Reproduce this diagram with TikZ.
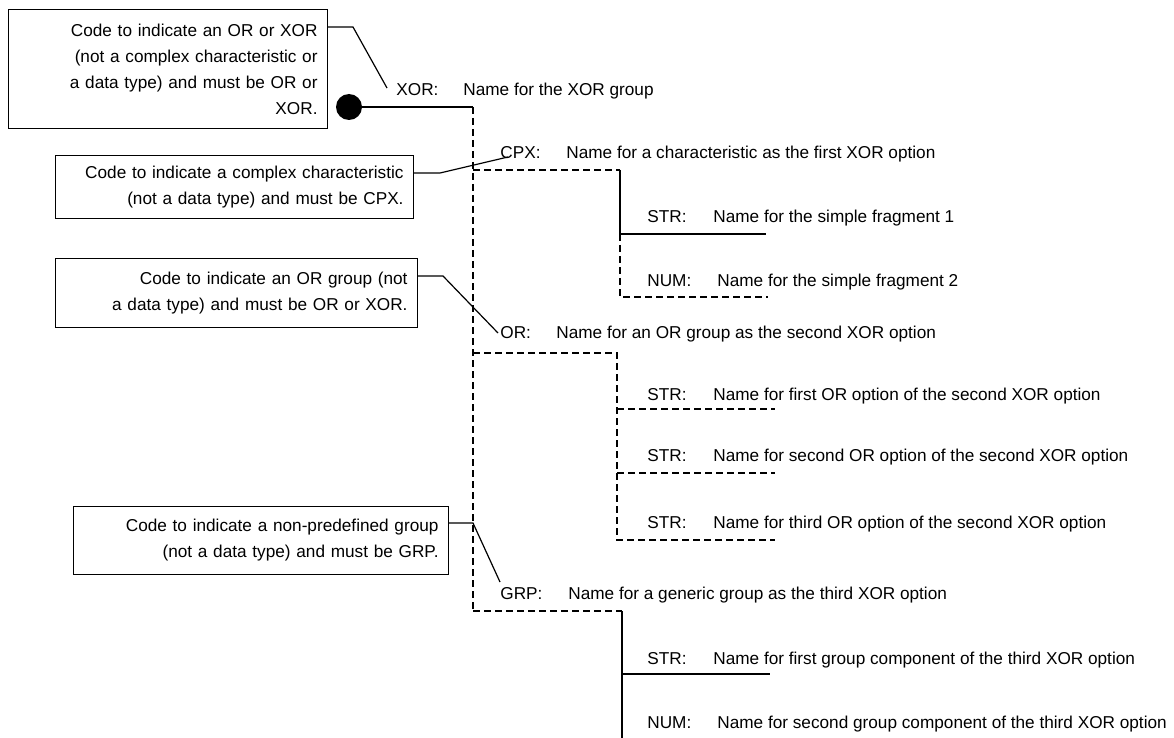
\documentclass[tikz,border=0pt]{standalone}
\usepackage{fontspec}
\setmainfont{Liberation Sans}
\usetikzlibrary{calc}
\begin{document}
\begin{tikzpicture}[x=0.5pt,y=-0.5pt,
  every node/.style={font=\fontsize{8.6}{13}\selectfont, inner sep=0pt},
  lbl/.style={anchor=base west},
  cbox/.style={draw, line width=0.55pt, align=right, anchor=north west, inner xsep=5pt},
  ln/.style={line width=0.6pt},
  dl/.style={line width=0.75pt, dash pattern=on 3.5pt off 2pt}]
\useasboundingbox (0,0) rectangle (1174,738);

% comment boxes
\node[cbox, minimum width=159.5pt, minimum height=59.5pt, text width=149.5pt] (b1) at (8,9)
  {Code to indicate an OR or XOR\\(not a complex characteristic or\\a data type) and must be OR or\\XOR.};
\node[cbox, minimum width=179pt, minimum height=31.5pt, text width=169pt] (b2) at (55,155)
  {Code to indicate a complex characteristic\\(not a data type) and must be CPX.};
\node[cbox, minimum width=181pt, minimum height=34.5pt, text width=171pt] (b3) at (55,258)
  {Code to indicate an OR group (not\\a data type) and must be OR or XOR.};
\node[cbox, minimum width=187.5pt, minimum height=34pt, text width=177.5pt] (b4) at (73,506)
  {Code to indicate a non-predefined group\\(not a data type) and must be GRP.};

% labels
\node[lbl] (xor) at (396,96) {XOR:};
\node[lbl] (xorn) at (463,96) {Name for the XOR group};
\node[lbl] (cpx) at (500,159) {CPX:};
\node[lbl] (cpxn) at (566,159) {Name for a characteristic as the first XOR option};
\node[lbl] (s1) at (647,223) {STR:};
\node[lbl] (s1n) at (713,223) {Name for the simple fragment 1};
\node[lbl] (n1) at (647,286) {NUM:};
\node[lbl] (n1n) at (717,286) {Name for the simple fragment 2};
\node[lbl] (or) at (500,338) {OR:};
\node[lbl] (orn) at (556,338) {Name for an OR group as the second XOR option};
\node[lbl] (s2) at (647,400) {STR:};
\node[lbl] (s2n) at (713,400) {Name for first OR option of the second XOR option};
\node[lbl] (s3) at (647,461) {STR:};
\node[lbl] (s3n) at (713,461) {Name for second OR option of the second XOR option};
\node[lbl] (s4) at (647,528) {STR:};
\node[lbl] (s4n) at (713,528) {Name for third OR option of the second XOR option};
\node[lbl] (grp) at (500,599) {GRP:};
\node[lbl] (grpn) at (568,599) {Name for a generic group as the third XOR option};
\node[lbl] (s5) at (647,664) {STR:};
\node[lbl] (s5n) at (713,664) {Name for first group component of the third XOR option};
\node[lbl] (n2) at (647,728) {NUM:};
\node[lbl] (n2n) at (717,728) {Name for second group component of the third XOR option};

% root dot
\node[circle, fill=black, minimum size=13pt] (dot) at (349,107) {};

% tree coordinates
\coordinate (r0) at (473,107);
\coordinate (rc) at (473,170);
\coordinate (ro) at (473,353);
\coordinate (rg) at (473,611);
\coordinate (c0) at (620,170);
\coordinate (c1) at (620,234);
\coordinate (c1e) at (766,234);
\coordinate (c2) at (620,297);
\coordinate (c2e) at (768,297);
\coordinate (o0) at (617,353);
\coordinate (o1) at (617,409);
\coordinate (o1e) at (775,409);
\coordinate (o2) at (617,473);
\coordinate (o2e) at (775,473);
\coordinate (o3) at (617,540);
\coordinate (o3e) at (775,540);
\coordinate (g0) at (622,611);
\coordinate (g1) at (622,674);
\coordinate (g1e) at (770,674);
\coordinate (g2) at (622,738);

\draw[ln] (dot.center) -- (r0);
\draw[dl] (r0) -- (rg);
\draw[dl] (rc) -- (c0);
\draw[ln] (c0) -- (c1) -- (c1e);
\draw[dl] (c1) -- (c2) -- (c2e);
\draw[dl] (ro) -- (o0) -- (o3) -- (o3e);
\draw[dl] (o1) -- (o1e);
\draw[dl] (o2) -- (o2e);
\draw[dl] (rg) -- (g0);
\draw[ln] (g0) -- (g2);
\draw[ln] (g1) -- (g1e);

% callout connectors
\coordinate (k1) at (353,27);
\coordinate (e1) at (387,88);
\draw[ln] ($(b1.north east)+(0,18)$) -- (k1) -- (e1);
\coordinate (k2) at (440,173);
\coordinate (e2) at (508,157);
\draw[ln] ($(b2.north east)+(0,18)$) -- (k2) -- (e2);
\coordinate (k3) at (443,276);
\coordinate (e3) at (498,333);
\draw[ln] ($(b3.north east)+(0,18)$) -- (k3) -- (e3);
\coordinate (k4) at (473,523);
\coordinate (e4) at (500,582);
\draw[ln] ($(b4.north east)+(0,17)$) -- (k4) -- (e4);
\end{tikzpicture}
\end{document}
